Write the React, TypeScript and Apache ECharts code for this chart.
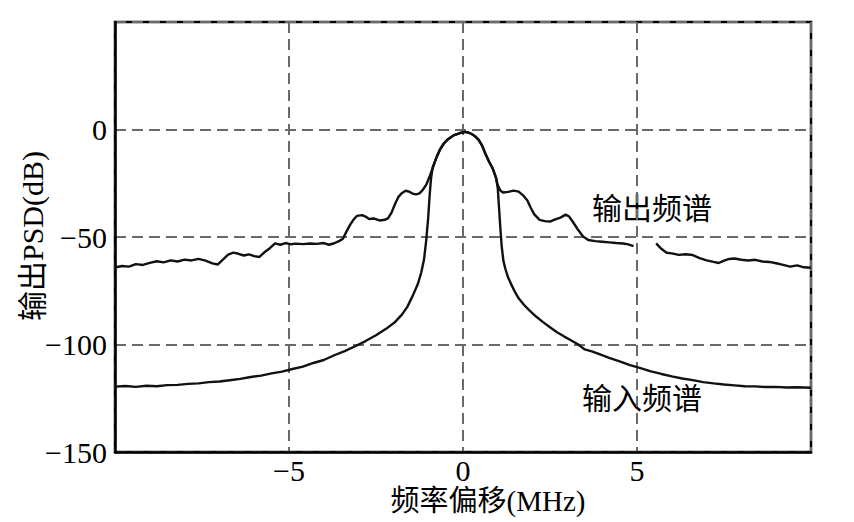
import React, { useEffect, useRef } from "react";
import * as echarts from "echarts";

// 输出频谱 (output PSD) — [frequency offset MHz, dB]; '-' marks the break in the trace
const outputSpectrum: [number, number | string][] = [
  [-10.0, -64.2], [-9.8, -63.5], [-9.6, -63.8], [-9.4, -62.6], [-9.2, -63.0], [-9.0, -62.0],
  [-8.8, -61.3], [-8.6, -61.8], [-8.4, -60.9], [-8.2, -61.4], [-8.0, -60.5], [-7.8, -60.9],
  [-7.6, -60.2], [-7.4, -61.0], [-7.2, -62.3], [-7.05, -62.8], [-6.9, -60.5], [-6.75, -58.2],
  [-6.6, -57.3], [-6.45, -57.8], [-6.3, -58.6], [-6.15, -58.1], [-6.0, -58.9], [-5.85, -59.3],
  [-5.7, -57.0], [-5.55, -55.2], [-5.4, -53.0], [-5.25, -53.6], [-5.1, -52.8], [-4.95, -53.4],
  [-4.8, -53.1], [-4.6, -53.3], [-4.4, -53.0], [-4.2, -53.2], [-4.0, -52.8], [-3.85, -53.6],
  [-3.7, -52.9], [-3.55, -51.8], [-3.45, -50.8], [-3.35, -47.5], [-3.25, -44.5], [-3.15, -42.0],
  [-3.05, -40.2], [-2.9, -39.8], [-2.8, -40.5], [-2.7, -41.6], [-2.55, -41.4], [-2.4, -42.3],
  [-2.25, -42.0], [-2.15, -41.2], [-2.05, -38.5], [-1.95, -34.5], [-1.85, -31.2], [-1.75, -29.5],
  [-1.65, -28.5], [-1.55, -28.9], [-1.45, -29.8], [-1.35, -30.2], [-1.25, -29.7], [-1.15, -28.0],
  [-1.05, -25.5], [-0.95, -21.5], [-0.85, -17.0], [-0.75, -12.5], [-0.65, -9.0], [-0.55, -6.5],
  [-0.45, -4.8], [-0.35, -3.6], [-0.25, -2.6], [-0.15, -2.0], [-0.05, -1.5], [0.05, -1.1],
  [0.15, -1.4], [0.25, -2.1], [0.35, -3.2], [0.45, -4.8], [0.55, -7.5], [0.65, -11.5],
  [0.75, -15.0], [0.85, -18.0], [0.95, -22.5], [1.0, -26.0], [1.08, -28.5], [1.15, -29.3],
  [1.3, -29.0], [1.45, -28.4], [1.6, -28.9], [1.75, -31.0], [1.85, -33.0], [1.95, -36.5],
  [2.05, -39.5], [2.2, -42.0], [2.35, -42.6], [2.5, -42.8], [2.65, -41.8], [2.8, -41.0],
  [2.95, -39.6], [3.05, -40.5], [3.15, -42.8], [3.3, -46.5], [3.45, -49.8], [3.6, -51.4],
  [3.8, -51.9], [4.0, -52.2], [4.2, -52.5], [4.4, -52.8], [4.6, -53.0], [4.75, -53.4],
  [4.9, -54.2], [5.2, "-"], [5.55, -53.0], [5.7, -55.5], [5.85, -57.3], [6.0, -57.6],
  [6.2, -58.3], [6.4, -58.0], [6.6, -58.4], [6.8, -59.8], [7.0, -60.9], [7.2, -61.6],
  [7.35, -62.1], [7.5, -61.0], [7.65, -60.2], [7.8, -60.0], [8.0, -60.6], [8.2, -60.9],
  [8.4, -60.6], [8.6, -61.4], [8.8, -61.6], [9.0, -62.2], [9.2, -63.0], [9.4, -63.8],
  [9.6, -63.2], [9.8, -64.1], [10.0, -64.3],
];

// 输入频谱 (input PSD)
const inputSpectrum: [number, number][] = [
  [-10.0, -119.6], [-9.7, -119.3], [-9.4, -119.7], [-9.1, -119.2], [-8.8, -119.4], [-8.5, -118.9],
  [-8.2, -118.8], [-7.9, -118.3], [-7.6, -118.1], [-7.3, -117.5], [-7.0, -117.2], [-6.7, -116.6],
  [-6.4, -116.0], [-6.1, -115.1], [-5.8, -114.5], [-5.5, -113.4], [-5.2, -112.6], [-4.9, -111.4],
  [-4.6, -110.3], [-4.3, -108.6], [-4.0, -107.2], [-3.7, -105.0], [-3.4, -103.1], [-3.1, -100.8],
  [-2.8, -98.4], [-2.5, -95.7], [-2.2, -92.6], [-1.95, -89.5], [-1.75, -86.0], [-1.6, -82.5],
  [-1.45, -77.5], [-1.3, -72.0], [-1.2, -66.5], [-1.12, -60.5], [-1.06, -52.0], [-1.0, -41.0],
  [-0.96, -31.0], [-0.92, -23.0], [-0.87, -17.5], [-0.75, -12.5], [-0.65, -9.0], [-0.55, -6.5],
  [-0.45, -4.8], [-0.35, -3.6], [-0.25, -2.6], [-0.15, -2.0], [-0.05, -1.5], [0.05, -1.1],
  [0.15, -1.4], [0.25, -2.1], [0.35, -3.2], [0.45, -4.8], [0.55, -7.5], [0.65, -11.5],
  [0.75, -15.0], [0.85, -18.0], [0.95, -22.5], [1.0, -27.5], [1.03, -35.0], [1.07, -45.0],
  [1.11, -54.0], [1.16, -61.0], [1.22, -65.0], [1.3, -69.0], [1.4, -72.5], [1.5, -75.8],
  [1.6, -78.5], [1.75, -81.5], [1.9, -84.0], [2.1, -87.0], [2.3, -89.6], [2.5, -92.0],
  [2.7, -94.3], [2.9, -96.2], [3.1, -98.0], [3.3, -99.9], [3.5, -102.3], [3.7, -103.2],
  [3.9, -104.4], [4.2, -106.2], [4.5, -107.8], [4.8, -109.6], [5.1, -111.0], [5.4, -112.5],
  [5.7, -113.7], [6.0, -114.8], [6.3, -115.8], [6.6, -116.6], [6.9, -117.5], [7.2, -118.1],
  [7.5, -118.6], [7.8, -119.0], [8.1, -119.4], [8.4, -119.5], [8.7, -119.8], [9.0, -119.7],
  [9.3, -120.0], [9.6, -119.9], [10.0, -120.1],
];

const xTicks = { min: -10, max: 10, interval: 5 };
const yTicks = { min: -150, max: 50, interval: 50 };

const xName = "频率偏移(MHz)";
const yName = "输出PSD(dB)";
const outputLabel = "输出频谱";
const inputLabel = "输入频谱";

const FONT = "'Liberation Serif', 'Noto Sans CJK SC', serif";

const fmt = (v: number) => (v < 0 ? "\u2212" + Math.abs(v) : String(v));

export default function App() {
  const ref = useRef<HTMLDivElement>(null);
  useEffect(() => {
    if (!ref.current) return;
    const chart = echarts.init(ref.current, undefined, { renderer: "svg" });
    const gridLine = { color: "#6a6a6a", width: 2, type: [11, 6] as number[] };
    chart.setOption({
      animation: false,
      backgroundColor: "#ffffff",
      textStyle: { fontFamily: FONT },
      grid: {
        left: 115,
        right: 43,
        top: 22,
        bottom: 70,
        containLabel: false,
        outerBoundsMode: "none",
        show: true,
        borderColor: "#000",
        borderWidth: 2.5,
      },
      xAxis: {
        type: "value",
        min: xTicks.min,
        max: xTicks.max,
        interval: xTicks.interval,
        axisLine: { show: true, onZero: false, lineStyle: { color: "#000", width: 2.5 } },
        axisTick: { show: false },
        axisLabel: {
          fontSize: 30,
          lineHeight: 26,
          color: "#000",
          fontFamily: FONT,
          margin: 5,
          showMinLabel: false,
          showMaxLabel: false,
          formatter: fmt,
        },
        splitLine: { show: true, lineStyle: gridLine },
      },
      yAxis: {
        type: "value",
        min: yTicks.min,
        max: yTicks.max,
        interval: yTicks.interval,
        axisLine: { show: true, onZero: false, lineStyle: { color: "#000", width: 2.5 } },
        axisTick: { show: false },
        axisLabel: {
          fontSize: 30,
          color: "#000",
          fontFamily: FONT,
          margin: 8,
          showMaxLabel: false,
          formatter: fmt,
        },
        splitLine: { show: true, lineStyle: gridLine },
      },
      graphic: [
        {
          type: "text",
          x: 488,
          y: 501,
          style: {
            text: xName,
            font: `29px ${FONT}`,
            fill: "#000",
            align: "center",
            verticalAlign: "middle",
          },
        },
        {
          type: "text",
          x: 32,
          y: 236,
          rotation: Math.PI / 2,
          style: {
            text: yName,
            font: `30px ${FONT}`,
            fill: "#000",
            align: "center",
            verticalAlign: "middle",
          },
        },
        {
          type: "text",
          left: 592,
          top: 193,
          style: { text: outputLabel, font: `30px ${FONT}`, fill: "#000" },
        },
        {
          type: "text",
          left: 582,
          top: 383,
          style: { text: inputLabel, font: `30px ${FONT}`, fill: "#000" },
        },
      ],
      series: [
        {
          name: inputLabel,
          type: "line",
          data: inputSpectrum,
          showSymbol: false,
          symbol: "none",
          lineStyle: { color: "#111", width: 2.4 },
          z: 3,
        },
        {
          name: outputLabel,
          type: "line",
          data: outputSpectrum,
          showSymbol: false,
          symbol: "none",
          connectNulls: false,
          lineStyle: { color: "#111", width: 2.4 },
          z: 4,
        },
      ],
    });
    return () => chart.dispose();
  }, []);
  return <div ref={ref} style={{ width: 854, height: 522, position: "absolute", left: 0, top: 0 }} />;
}
